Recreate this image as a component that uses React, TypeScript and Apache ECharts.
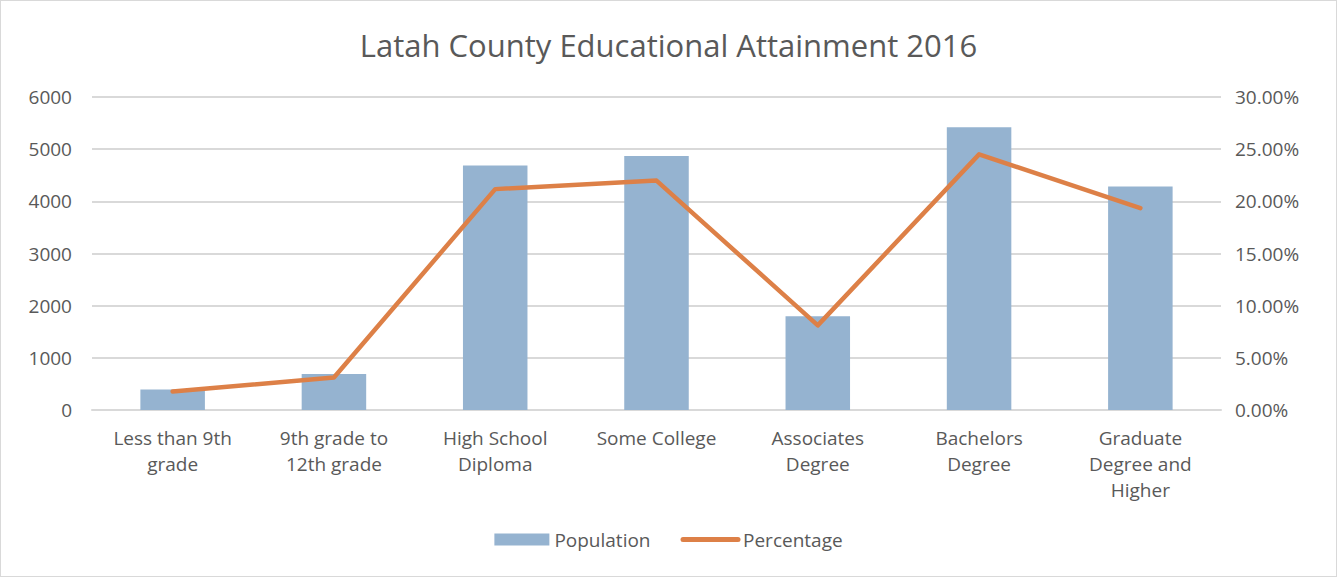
import React, { useEffect, useRef } from "react";
import * as echarts from "echarts";

const categories = [
  "Less than 9th\ngrade",
  "9th grade to\n12th grade",
  "High School\nDiploma",
  "Some College",
  "Associates\nDegree",
  "Bachelors\nDegree",
  "Graduate\nDegree and\nHigher",
];
const population = [391, 689, 4685, 4868, 1796, 5422, 4284];
const percentage = [0.0177, 0.0311, 0.2117, 0.2199, 0.0811, 0.245, 0.1935];

const FONT = "'Open Sans', 'DejaVu Sans', sans-serif";
const TEXT = "#595959";

export default function App() {
  const ref = useRef<HTMLDivElement>(null);
  useEffect(() => {
    const chart = echarts.init(ref.current!, null, { renderer: "svg" });
    chart.setOption({
      animation: false,
      backgroundColor: "#ffffff",
      title: {
        text: "Latah County Educational Attainment 2016",
        left: "center",
        top: 23,
        textStyle: { fontFamily: FONT, fontSize: 31, fontWeight: "normal", color: TEXT },
      },
      legend: {
        bottom: 22,
        left: "center",
        itemGap: 30,
        textStyle: { fontFamily: FONT, fontSize: 19, color: TEXT },
        data: [
          { name: "Population", icon: "rect", itemStyle: { color: "#95b3d0" } },
          {
            name: "Percentage",
            itemStyle: { opacity: 0 },
            lineStyle: { color: "#dd8047", width: 5, cap: "round" },
          },
        ],
        itemWidth: 55,
        itemHeight: 12,
      },
      grid: { left: 91, right: 115, top: 96, bottom: 166, containLabel: false },
      xAxis: {
        type: "category",
        data: categories,
        axisLine: { lineStyle: { color: "#d9d9d9", width: 2 } },
        axisTick: { show: false },
        axisLabel: {
          fontFamily: FONT,
          fontSize: 19,
          color: TEXT,
          lineHeight: 26,
          margin: 15,
          interval: 0,
        },
      },
      yAxis: [
        {
          type: "value",
          min: 0,
          max: 6000,
          interval: 1000,
          axisLine: { show: false },
          axisTick: { show: false },
          splitLine: { lineStyle: { color: "#d9d9d9", width: 2 } },
          axisLabel: {
            fontFamily: FONT,
            fontSize: 19,
            color: TEXT,
            margin: 20,
            formatter: (v: number) => String(v),
          },
        },
        {
          type: "value",
          min: 0,
          max: 0.3,
          interval: 0.05,
          axisLine: { show: false },
          axisTick: { show: false },
          splitLine: { show: false },
          axisLabel: {
            fontFamily: FONT,
            fontSize: 19,
            color: TEXT,
            margin: 14,
            formatter: (v: number) => (v * 100).toFixed(2) + "%",
          },
        },
      ],
      series: [
        {
          name: "Population",
          type: "bar",
          data: population,
          barWidth: "40%",
          itemStyle: { color: "#95b3d0" },
        },
        {
          name: "Percentage",
          type: "line",
          yAxisIndex: 1,
          data: percentage,
          symbol: "none",
          lineStyle: { color: "#dd8047", width: 4.5, cap: "round", join: "round" },
          itemStyle: { color: "#dd8047" },
        },
      ],
    });
    return () => chart.dispose();
  }, []);
  return (
    <div
      style={{
        position: "fixed",
        left: 0,
        top: 0,
        width: 1337,
        height: 577,
        boxSizing: "border-box",
        border: "1px solid #d9d9d9",
        background: "#fff",
      }}
    >
      <div ref={ref} style={{ width: 1335, height: 575 }} />
    </div>
  );
}
